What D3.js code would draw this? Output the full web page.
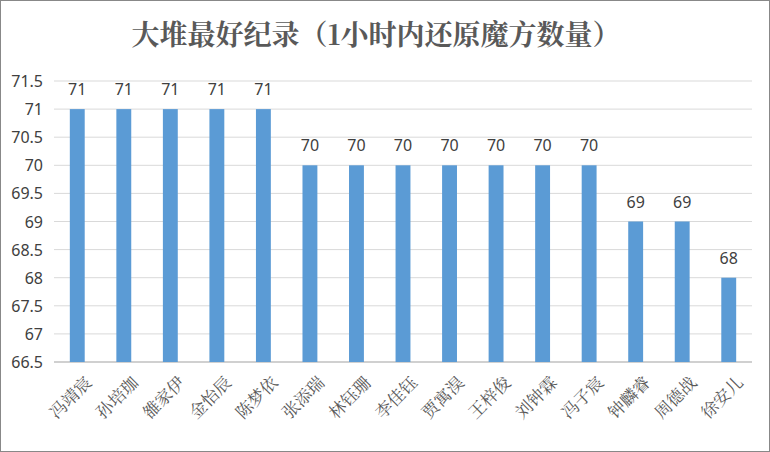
<!DOCTYPE html><html><head><meta charset="utf-8"><script src="https://cdn.jsdelivr.net/npm/d3@7"></script>
<style>body{margin:0;background:#fff}</style></head><body><svg id="c" width="770" height="452"></svg><script>
const categories=["冯靖宸","孙培珈","雒家伊","金怡辰","陈梦依","张添瑞","林钰珊","李佳钰","贾寓淏","王梓俊","刘钟霖","冯子宸","钟麟睿","周德战","徐安儿"];
const values=[71,71,71,71,71,70,70,70,70,70,70,70,69,69,68];
const ticks=[66.5,67,67.5,68,68.5,69,69.5,70,70.5,71,71.5];
const svg=d3.select("#c");
svg.append("rect").attr("x",0.5).attr("y",0.5).attr("width",769).attr("height",451).attr("fill","#fff").attr("stroke","#888");
svg.append("text").attr("x",376).attr("y",45).attr("text-anchor","middle").attr("font-family","'Noto Serif CJK SC','Noto Sans CJK SC',serif").attr("font-weight","bold").attr("font-size",28).attr("fill","#595959").text("大堆最好纪录（1小时内还原魔方数量）");
const x=d3.scaleBand().domain(categories).range([54,752]).paddingInner(0.68).paddingOuter(0.34);
const y=d3.scaleLinear().domain([66.5,71.5]).range([362,81]);
ticks.forEach(t=>{svg.append("line").attr("x1",54).attr("x2",752).attr("y1",y(t)).attr("y2",y(t)).attr("stroke",t===66.5?"#d0d0d0":"#d9d9d9").attr("stroke-width",t===66.5?2:1);
svg.append("text").attr("x",43).attr("y",y(t)+6).attr("text-anchor","end").attr("font-family","'Noto Sans','DejaVu Sans',sans-serif").attr("font-size",16).attr("fill","#404040").text(t);});
svg.selectAll(".b").data(values).enter().append("rect").attr("x",(d,i)=>x(categories[i])).attr("width",x.bandwidth()).attr("y",d=>y(d)).attr("height",d=>y(66.5)-y(d)).attr("fill","#5b9bd5");
svg.selectAll(".v").data(values).enter().append("text").attr("x",(d,i)=>x(categories[i])+x.bandwidth()/2).attr("y",d=>y(d)-14).attr("text-anchor","middle").attr("font-family","'Noto Sans','DejaVu Sans',sans-serif").attr("font-size",16).attr("fill","#404040").text(d=>d);
categories.forEach(c=>{const cx=x(c)+x.bandwidth()/2;svg.append("text").attr("transform",`translate(${cx+6},${374}) rotate(-45)`).attr("text-anchor","end").attr("dy","0.8em").attr("font-family","'Noto Serif CJK SC','Noto Sans CJK SC',serif").attr("font-size",17).attr("fill","#595959").text(c);});
</script></body></html>
